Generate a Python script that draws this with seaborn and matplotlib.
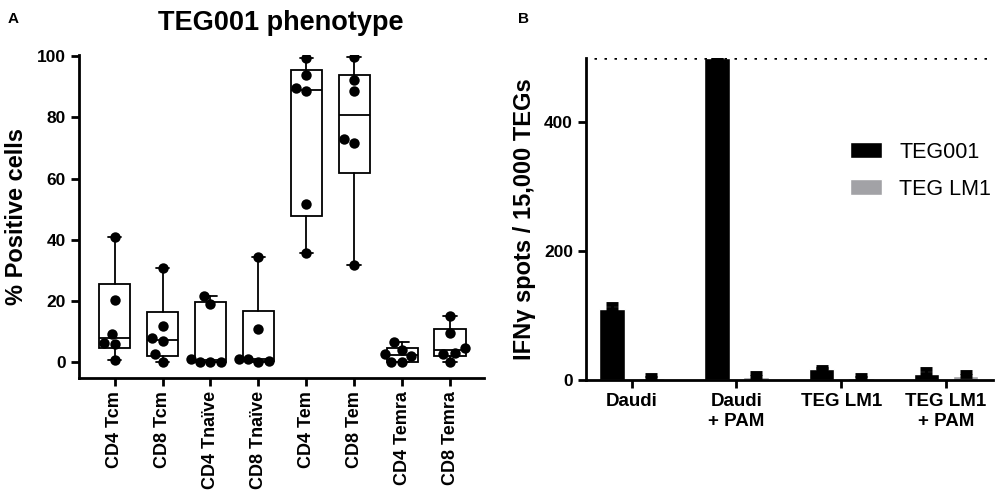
import numpy as np
import pandas as pd
import matplotlib
matplotlib.use('Agg')
import matplotlib.pyplot as plt
import seaborn as sns

sns.set_style('ticks')
plt.rcParams['font.family'] = ['Liberation Sans', 'DejaVu Sans']
plt.rcParams['text.color'] = 'black'
plt.rcParams['axes.labelcolor'] = 'black'
plt.rcParams['xtick.color'] = 'black'
plt.rcParams['ytick.color'] = 'black'
plt.rcParams['axes.edgecolor'] = 'black'

# panel A data: % positive cells per subset
subsets = ['CD4 Tcm', 'CD8 Tcm', 'CD4 Tnaïve', 'CD8 Tnaïve',
           'CD4 Tem', 'CD8 Tem', 'CD4 Temra', 'CD8 Temra']
cd4_tcm = [40.9, 20.2, 9.3, 6.3, 6.0, 0.8]
cd8_tcm = [30.8, 11.7, 7.9, 6.8, 2.5, 0.0]
cd4_tnaive = [21.6, 18.9, 1.1, 0.0, 0.0, 0.0]
cd8_tnaive = [34.4, 10.7, 1.1, 0.9, 0.5, 0.0]
cd4_tem = [99.5, 94.0, 89.7, 88.5, 51.8, 35.8]
cd8_tem = [99.8, 92.1, 88.6, 72.8, 71.8, 31.8]
cd4_temra = [6.5, 4.1, 2.7, 1.9, 0.0, 0.0]
cd8_temra = [15.0, 9.5, 4.6, 3.0, 2.5, 0.0]
all_a = [cd4_tcm, cd8_tcm, cd4_tnaive, cd8_tnaive, cd4_tem, cd8_tem, cd4_temra, cd8_temra]

# panel B data: IFNg spots / 15,000 TEGs
conditions = ['Daudi', 'Daudi\n+ PAM', 'TEG LM1', 'TEG LM1\n+ PAM']
teg001_mean = [110, 500, 16.5, 9]
teg001_err = [8, 0, 3.5, 7.5]
teglm1_mean = [3, 5, 3, 6]
teglm1_err = [4, 6, 4, 6]
lines = ['TEG001', 'TEG LM1']

rows = []
for name, vals in zip(subsets, all_a):
    for v in vals:
        rows.append({'subset': name, 'pct': v})
dfa = pd.DataFrame(rows)

dfb = pd.DataFrame({
    'cond': conditions * 2,
    'line': [lines[0]] * 4 + [lines[1]] * 4,
    'spots': teg001_mean + teglm1_mean,
})

fig = plt.figure(figsize=(9.97, 4.98), dpi=100)
ax = fig.add_axes([0.079, 0.241, 0.406, 0.649])
ax2 = fig.add_axes([0.588, 0.237, 0.408, 0.647])

# ---- panel A
# quartiles the way Prism does it (weibull / n+1 method), whiskers min to max
stats = []
for vals in all_a:
    q1, med, q3 = np.percentile(vals, [25, 50, 75], method='weibull')
    stats.append({'med': med, 'q1': q1, 'q3': q3,
                  'whislo': min(vals), 'whishi': max(vals), 'fliers': []})
ax.bxp(stats, positions=range(len(subsets)), widths=0.65, capwidths=0.28,
       showfliers=False, patch_artist=True,
       boxprops={'facecolor': 'white', 'edgecolor': 'black', 'linewidth': 1.3},
       medianprops={'color': 'black', 'linewidth': 1.3},
       whiskerprops={'color': 'black', 'linewidth': 1.3},
       capprops={'color': 'black', 'linewidth': 1.3})
sns.swarmplot(data=dfa, x='subset', y='pct', order=subsets, color='black',
              size=7.5, ax=ax, zorder=3)
ax.set_ylim(-5.2, 100.5)
ax.set_xlim(-0.75, 7.7)
ax.set_yticks([0, 20, 40, 60, 80, 100])
ax.set_xticks(range(len(subsets)))
ax.set_xticklabels(subsets)
ax.set_xlabel('')
ax.set_ylabel('% Positive cells', fontsize=17, fontweight='bold', labelpad=6)
ax.set_title('TEG001 phenotype', fontsize=19.5, fontweight='bold', pad=18)
ax.tick_params(axis='y', labelsize=12.5, width=2, length=6)
ax.tick_params(axis='x', labelsize=13, width=2, length=6, rotation=90)
for lab in ax.get_yticklabels() + ax.get_xticklabels():
    lab.set_fontweight('bold')
sns.despine(ax=ax)
for s in ['left', 'bottom']:
    ax.spines[s].set_linewidth(2)

# ---- panel B
sns.barplot(data=dfb, x='cond', y='spots', hue='line', order=conditions,
            hue_order=lines, palette=['black', '#a2a2a6'], width=0.75,
            gap=0.35, errorbar=None, saturation=1, ax=ax2)
errs = [teg001_err, teglm1_err]
for cont, err in zip(ax2.containers, errs):
    xs = [b.get_x() + b.get_width() / 2 for b in cont]
    hs = [b.get_height() for b in cont]
    ax2.errorbar(xs, hs, yerr=[np.zeros(len(err)), err], fmt='none',
                 ecolor='black', elinewidth=2, capsize=4.5, capthick=3.5)
ax2.axhline(500, color='black', linestyle=(0, (1, 3)), linewidth=1.8,
            xmin=0.02, xmax=0.985)
ax2.set_ylim(0, 500)
ax2.set_xlim(-0.435, 3.45)
ax2.set_yticks([0, 200, 400])
ax2.set_xlabel('')
ax2.set_ylabel('IFNγ spots / 15,000 TEGs', fontsize=17, fontweight='bold',
               labelpad=6)
ax2.tick_params(axis='y', labelsize=12.5, width=2, length=6)
ax2.tick_params(axis='x', labelsize=13.5, width=2, length=6)
for lab in ax2.get_yticklabels() + ax2.get_xticklabels():
    lab.set_fontweight('bold')
sns.despine(ax=ax2)
ax2.spines['left'].set_linewidth(2)
ax2.spines['bottom'].set_linewidth(2)
ax2.legend(frameon=False, loc='upper left', bbox_to_anchor=(0.6, 0.80),
           fontsize=15.5, handlelength=1.5, handleheight=0.8,
           labelspacing=0.75, handletextpad=0.8)

fig.text(0.008, 0.975, 'A', fontsize=11, fontweight='bold', va='top')
fig.text(0.52, 0.975, 'B', fontsize=11, fontweight='bold', va='top')

fig.savefig('out.png', dpi=100)
